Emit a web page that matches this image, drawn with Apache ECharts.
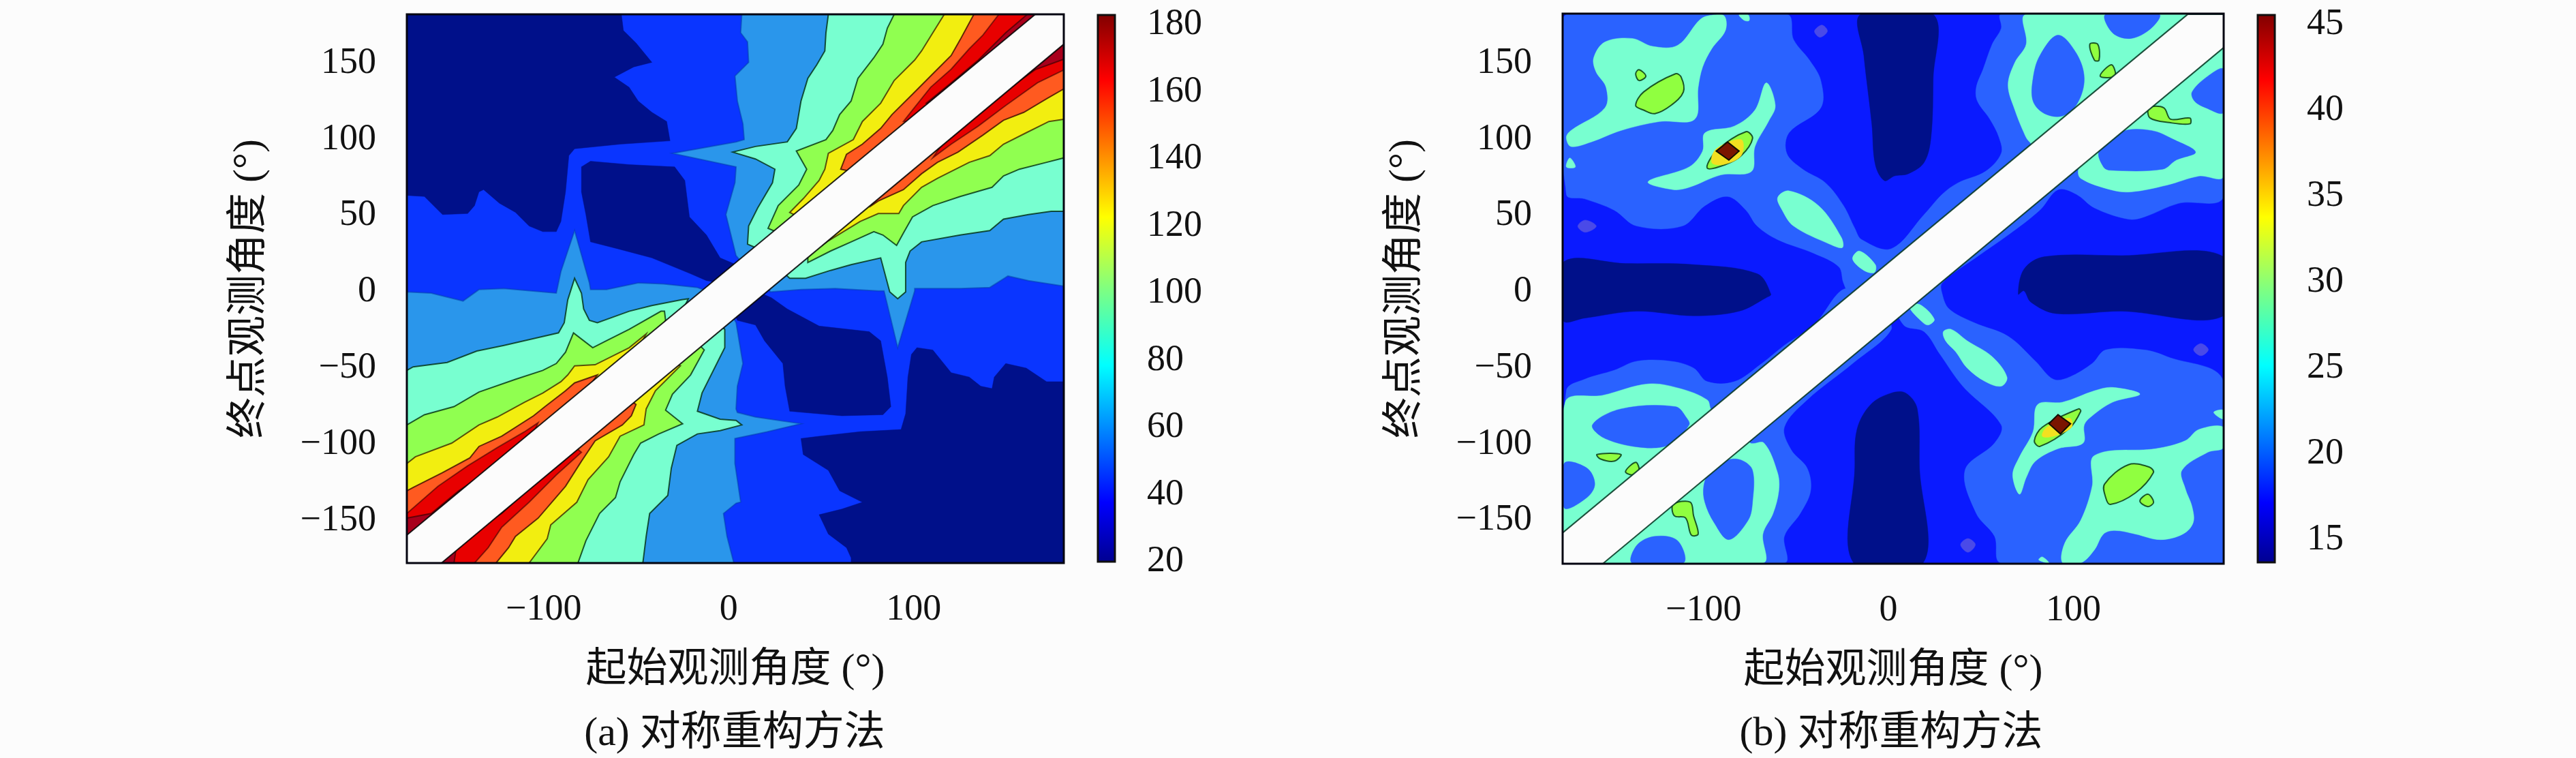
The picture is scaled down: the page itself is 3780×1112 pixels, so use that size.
<!DOCTYPE html>
<html><head><meta charset="utf-8">
<style>html,body{margin:0;padding:0;background:#fcfcfc}#c{width:3780px;height:1112px}</style>
<script src="https://cdn.jsdelivr.net/npm/echarts@6/dist/echarts.min.js"></script>
</head><body><div id="c"></div>
<script>
/* axis ticks and labels */
const xTicks=[-100,0,100];
const yTicks=[-150,-100,-50,0,50,100,150];
const cbarTicksA=[20,40,60,80,100,120,140,160,180];
const cbarTicksB=[15,20,25,30,35,40,45];
const xNameText='起始观测角度 (°)';
const yNameText='终点观测角度 (°)';
const captionA='(a) 对称重构方法';
const captionB='(b) 对称重构方法';
const boundsA=[-174,181.2,-178,182];
const boundsB=[-176.2,181.3,-178.5,182.5];
const cbarRangeA=[19,181.8];
const cbarRangeB=[13.49,45.36];
const cbarSpanA=[20,182.8];
const cbarSpanB=[13.69,45.56];
const jetStops=['#00008f','#0000ff','#00ffff','#80ff80','#ffff00','#ff0000','#800000'];
const jetOffsets=[0,0.11,0.36,0.5,0.63,0.88,1];

/* contour regions of panel (a), in degrees */
const aNavy1=[[-174,182],[-58,182],[-56.9,171.4],[-50.1,163.2],[-41.5,150.5],[-51.3,147.5],[-61.8,140.8],[-53.8,134.1],[-48.9,125.1],[-41.5,117.7],[-33.5,111.7],[-31.7,99],[-58.7,96.8],[-83.3,93.8],[-86.4,89.3],[-88.2,65.5],[-90.7,46.1],[-93.2,39.4],[-100.5,39.4],[-107.9,43.1],[-115.3,52.1],[-123.9,58],[-132.5,67],[-135,65.5],[-137.4,56.5],[-141.1,51.3],[-154.7,50.6],[-164.5,62.5],[-174,63.2]];
const aNavy2=[[-79.6,81.9],[-74.7,85.6],[-53.8,83.4],[-29.2,81.9],[-23.7,73],[-21.2,49.1],[-12,37.2],[-4.6,22.2],[4,17.8],[-4.6,5.8],[-12,7.3],[-20.6,11.8],[-41.5,22.2],[-60,28.2],[-74.7,32.7],[-77.2,50.6],[-79.6,65.5]];
const aNavy3=[[23.1,-3.9],[31.7,-11.3],[48.9,-22.5],[76,-26.2],[82.2,-32.2],[85.8,-56.1],[87.7,-75.4],[83.4,-80.7],[61.2,-81.4],[33,-78.4],[30.5,-62],[29.3,-47.1],[19.4,-32.2],[14.5,-21.8],[4.7,-18.8],[2.2,-11.3],[14.5,0.6]];
const aNavy4=[[181.5,-59],[171.9,-59],[160.9,-50.1],[149.8,-47.1],[143.6,-56],[142.4,-63.5],[136.3,-62],[130.1,-56],[120.3,-53.1],[110.4,-38.2],[101.8,-36.7],[98.8,-41.1],[96.9,-56],[95.7,-79.9],[93.2,-90.4],[71.1,-91.8],[48.9,-94.8],[39.1,-96.3],[40.3,-106.8],[53.9,-117.2],[60,-130.6],[72.3,-138.1],[61.2,-142.6],[48.9,-146.3],[53.9,-159],[63.7,-167.9],[66.2,-174.6],[66.2,-178],[181.5,-178]];
const aSky1=[[7.1,182],[6.5,169.9],[10.2,163.9],[10.8,150.5],[3.4,141.5],[4.7,125.1],[7.7,110.2],[8.4,99.8],[4,98.3],[-30.4,90.8],[4,81.9],[3.4,71.5],[-1.5,50.6],[4,23.7],[10,15],[165,172],[165,182]];
const aSky2=[[-174,-0.1],[-160.8,-0.9],[-143.6,-6.1],[-135,1.4],[-121.5,2.1],[-93.2,-0.9],[-90.7,13.3],[-83.3,40.1],[-75.3,5.8],[-74.7,1.4],[-66,1.4],[-48.9,5.8],[-35.3,5.1],[-16.9,2.8],[-8,-1],[-160,-165],[-174,-165]];
const aSky3=[[181.5,3.6],[162.1,7.3],[151,10.3],[141.2,2.8],[125.2,2.1],[100.6,2.1],[100.6,0.6],[91.4,-36.7],[84,0.6],[80.9,0.6],[57.6,2.1],[39.1,1.4],[22.5,-0.1],[20,8],[170,165],[181.5,172]];
const aSky4=[[2.8,-178],[-0.9,-160.5],[-2.8,-145.5],[4,-138.8],[6.5,-138],[3.4,-112.7],[3.4,-96.3],[20.7,-91.9],[39.1,-86.6],[14.5,-82.2],[4.7,-79.2],[4,-76.9],[4.7,-62],[7.7,-47.1],[4,-20.3],[0,-12],[-150,-160],[-150,-178]];
const aMint1=[[53.9,182],[52.6,169.9],[52,158],[47.7,149],[42.8,140],[39.1,125.1],[36.6,107.2],[31.7,98.3],[14.5,95.3],[2.2,91.6],[14.5,87.1],[25,80.4],[23.7,71.5],[15.7,55],[10.8,43.1],[10.2,31.2],[14.5,29],[20,30],[165,175],[165,182]];
const aMint2=[[181.5,52.8],[174.4,52.8],[162.1,50.6],[148.6,47.6],[141.2,40.1],[125.2,37.2],[104.3,32.7],[98.1,26.7],[95.7,19.3],[95.7,-0.1],[91.4,-4.6],[87.1,-0.1],[82.2,22.2],[66.2,17.8],[55.1,14],[41.6,8.8],[33,8.8],[31.1,11],[40,30],[170,165],[181.5,172]];
const aMint3=[[-174,-51.6],[-170.6,-49.3],[-152.2,-46.4],[-136.2,-38.9],[-121.5,-35.2],[-107.9,-31.4],[-92,-27],[-88.9,-20.3],[-87,-5.3],[-83.3,8.8],[-79.6,-0.9],[-78.4,-11.3],[-75.3,-18.8],[-71,-20.3],[-53.8,-12.8],[-41.5,-9.1],[-25.5,-5.3],[-21.8,-4.6],[-30,-25],[-165,-170],[-174,-170]];
const aMint4=[[-46.4,-178],[-44.6,-160.5],[-42.7,-145.5],[-32.9,-133.6],[-31,-115.7],[-28,-100.8],[-16.9,-93.3],[-4.6,-91.1],[7.1,-87.4],[4,-84.4],[-4.6,-83.6],[-16.9,-78.4],[-14.4,-66.5],[-2.1,-36.7],[-2.1,-24.7],[-10,-15],[-160,-165],[-160,-178]];
const aLime1=[[89.5,182],[85.8,172.9],[83.4,162.4],[78.5,153.5],[69.9,140],[66.2,125.1],[60,116.2],[56.3,105.8],[52.6,99.8],[36.6,92.3],[42.2,80.4],[37.9,70],[26.8,56.5],[21.3,41.6],[25.6,39.4],[35,43],[165,175],[165,182]];
const aLime2=[[181.5,87.9],[171.9,84.9],[157.2,80.4],[148.6,76],[142.4,68.5],[125.2,62.5],[110.4,56.5],[99.4,49.1],[94.5,38.6],[90.8,30.4],[83.4,37.2],[78.5,39.4],[66.2,32.7],[55.1,26.7],[42.8,19.2],[42.8,23],[50,40],[170,165],[181.5,172]];
const aLime3=[[-174,-87.4],[-164.5,-80.7],[-148.5,-75.4],[-135,-65.8],[-115.3,-57.5],[-100.5,-51.6],[-93.2,-47.1],[-88.2,-39.7],[-83.9,-27],[-73.5,-36.7],[-66.1,-32.2],[-53.8,-24.7],[-36.6,-12.8],[-34.7,-12.8],[-34.1,-18.8],[-40,-35],[-165,-170],[-174,-170]];
const aLime4=[[-81.5,-178],[-77.2,-163.4],[-69.8,-145.5],[-61.2,-135.1],[-58.7,-124.7],[-51.3,-106.8],[-47.6,-99.3],[-37.8,-93.3],[-24.9,-86.6],[-34.1,-77.7],[-30.4,-67.2],[-20.6,-54.6],[-13.2,-38.2],[-20,-30],[-155,-165],[-155,-178]];
const aYellow1=[[116.6,182],[110.4,169.9],[104.3,158],[100.6,152],[89.5,138.6],[82.2,123.7],[72.3,111.7],[67.4,99.8],[53.9,90.8],[52,80.4],[48.9,73],[40.3,61],[33,52],[35.4,50.6],[42,52],[165,175],[165,182]];
const aYellow2=[[181.5,113.2],[173.2,111.7],[160.9,104.3],[148.6,96.8],[141.2,89.3],[130.1,84.9],[112.9,74.4],[104.3,68.5],[94.5,56.5],[92,51.3],[80.9,51.3],[71.1,46.1],[53.9,33.4],[51.4,31.2],[60,50],[170,165],[181.5,172]];
const aYellow3=[[-174,-112.7],[-169.4,-108.3],[-149.7,-99.3],[-135,-87.4],[-125.1,-82.2],[-110.4,-72.5],[-100.5,-66.5],[-90.7,-59],[-87,-54.6],[-83.3,-48.6],[-72.2,-47.9],[-53.8,-36.7],[-44.6,-27.7],[-50,-40],[-165,-170],[-174,-170]];
const aYellow4=[[-107.9,-178],[-98.1,-162],[-96.2,-153],[-82.1,-138.1],[-76,-123.2],[-64.9,-108.3],[-58.7,-94.8],[-45.8,-87.4],[-44.6,-76.9],[-39.6,-65],[-26.1,-48.6],[-35,-45],[-160,-170],[-160,-178]];
const aOrange1=[[132.6,182],[125.2,165.4],[120.3,155],[110.4,143],[99.4,129.6],[88.3,116.2],[82.2,107.2],[72.3,96.8],[63.7,90.1],[60.6,80.4],[70,78],[165,175],[165,182]];
const aOrange2=[[181.5,133.3],[171.9,126.6],[159.6,117.7],[148.6,112.5],[137.5,102.8],[124,91.6],[112.9,84.9],[104.3,77.4],[94.5,67],[80.9,59.5],[77.2,56.5],[90,80],[170,165],[181.5,172]];
const aOrange3=[[-174,-130.6],[-170.6,-128.4],[-154.7,-118.7],[-139.9,-109],[-135,-101.5],[-122.7,-94.8],[-105.5,-81.4],[-99.3,-75.4],[-88.2,-65],[-83.3,-59.8],[-71,-54.6],[-80,-70],[-165,-170],[-174,-170]];
const aOrange4=[[-125.8,-178],[-119,-167.9],[-115.3,-160.5],[-103,-148.5],[-88.2,-127.6],[-79.6,-111.2],[-72.2,-97.8],[-57.5,-87.4],[-52.6,-81.4],[-50.1,-74],[-60,-65],[-160,-170],[-160,-178]];
const aRed1=[[146.1,182],[137.5,168.4],[130.1,159.4],[120.3,146],[109.2,134.1],[99.4,119.2],[94.5,111.7],[105,112],[165,175],[165,182]];
const aRed2=[[181.5,145.7],[167,137.1],[149.8,122.2],[135,108.7],[120.3,96.8],[110.4,87.9],[120,105],[170,165],[181.5,172]];
const aRed3=[[-174,-145.5],[-157.1,-127.6],[-141.1,-114.2],[-125.1,-102.3],[-110.4,-91.9],[-103,-85.9],[-110,-105],[-165,-170],[-174,-170]];
const aRed4=[[-137.4,-178],[-130,-167.9],[-122.7,-154.5],[-107.9,-138.1],[-93.2,-120.2],[-79.6,-105.3],[-90,-95],[-160,-170],[-160,-178]];
const aMaroon1=[[161.5,182],[149.8,169.9],[135,152],[120.3,137.1],[106.8,123.7],[115,120],[165,178],[165,182]];
const aMaroon2=[[181.5,152.7],[165.8,145.7],[152.3,134.1],[137.5,119.2],[122.7,104.3],[112.9,93.8],[125,115],[170,165],[181.5,172]];
const aMaroon3=[[-174,-148.5],[-160.8,-145.5],[-146,-130.6],[-135,-121.7],[-123.9,-109.7],[-110.4,-97.8],[-120,-115],[-165,-170],[-174,-170]];
const aMaroon4=[[-148.5,-178],[-147.3,-168],[-132.5,-153],[-122.7,-145.5],[-107.9,-129.1],[-90.7,-112.7],[-79.6,-100.8],[-90,-95],[-160,-170],[-160,-178]];
const aGap=[[-174,-159.7],[-174,-178],[-155.3,-178],[181.2,162.4],[181.2,182],[165.8,182]];

/* contour regions of panel (b), in degrees */
const bNavy1=[[-15,182],[-13.3,155],[-9,110.2],[-7.1,83.4],[-2.2,72.9],[3.3,76],[10.7,77.4],[19.3,84.9],[23,101.3],[24.2,140],[24.2,182]];
const bNavy2=[[-18.8,-178],[-18.2,-115.7],[-17,-90.4],[-9.6,-74],[1.5,-66.5],[9.4,-66.5],[15.6,-76.9],[16.8,-115.7],[18.7,-178]];
const bNavy3=[[-176,19.2],[-142.2,18.5],[-105.4,17.8],[-71,11.8],[-63.6,-1.6],[-66.1,-3.9],[-80.8,-12.8],[-105.4,-15.8],[-136.1,-12.8],[-164.4,-17.3],[-176,-18.8]];
const bNavy4=[[70.2,-1.6],[73.3,14.8],[84.4,23],[126.1,23.7],[181.2,23],[181.2,-15.8],[126.1,-12.8],[90.5,-14.3],[77,-6.8],[73.3,0.6]];
const bAzure1=[[-174.2,182],[-55,182],[-51.3,165.4],[-42.7,152],[-36.6,138.6],[-36.6,120.7],[-53.8,104.3],[-55,90.8],[-46.4,80.4],[-34.1,71.5],[-24.3,56.5],[-18.2,41.6],[-14.5,34.2],[1.5,28.2],[19.3,50.6],[29.1,64],[37.7,71.5],[52.4,78.9],[61,90.8],[59.8,101.3],[54.9,113.2],[48.1,125.1],[47.5,134.1],[51.2,146],[56.1,162.4],[61,172.9],[61,182],[165,182],[165,175],[-10,0],[-20.6,-1.6],[-24.3,5.8],[-26.8,16.3],[-40.3,25.2],[-60,34.2],[-71,43.1],[-77.1,53.6],[-87,62.5],[-99.2,56.5],[-111.5,43.1],[-136.1,43.1],[-148.4,53.6],[-164.4,61],[-174.2,64]];
const bAzure2=[[-174.2,-65],[-164.4,-57.5],[-148.4,-51.6],[-136.1,-45.6],[-117.7,-45.6],[-105.4,-50.1],[-98,-59],[-83.3,-59],[-68.5,-47.1],[-56.3,-35.2],[-40.3,-21.8],[-23,2.1],[-10,-15],[-165,-170],[-176.2,-170]];
const bAzure3=[[181.2,62.5],[156.9,58],[138.4,49.1],[129.8,47.6],[111.4,55],[101.6,64],[91.7,67],[81.9,53.6],[64.7,37.2],[48.8,23.7],[29.1,5.8],[29.1,-1.6],[32.8,-11.3],[46.3,-20.3],[64.7,-29.2],[79.5,-45.6],[89.3,-57.5],[97.9,-56],[110.2,-47.1],[117.5,-38.2],[138.4,-38.2],[150.7,-42.6],[181.2,-59],[181.2,-178],[61,-178],[57.4,-160.5],[47.5,-145.5],[41.4,-117.2],[57.4,-99.3],[61,-87.4],[40.2,-62],[27.9,-41.1],[19.3,-26.2],[8.2,-21.8],[5,-5],[170,165],[181.2,172]];
const bAzure4=[[1.5,-24.7],[-19.4,-47.1],[-44,-71],[-56.3,-88.9],[-52.6,-103.8],[-44,-115.7],[-42.1,-130.6],[-47.7,-145.5],[-56.3,-160.5],[-56.3,-178],[-150,-178],[-150,-165],[-5,-15]];
const bSpot1=[[-168,43],[-164,47],[-158,43],[-164,39]];
const bSpot2=[[-40,171],[-36,175],[-33,171],[-37,167]];
const bSpot3=[[165,-38],[169,-34],[173,-38],[169,-42]];
const bSpot4=[[39,-166],[43,-162],[47,-166],[43,-171]];
const bMint1=[[-174.2,101.3],[-171.7,105.8],[-153.3,120.7],[-152.7,134.1],[-158.2,144.5],[-159.4,153.5],[-153.3,163.9],[-138.6,166.2],[-127.5,161],[-114,161.7],[-101.7,178.8],[-95.6,181.5],[-88.8,181],[-88.2,171.4],[-95.6,159.4],[-100.5,147.5],[-102.9,134.1],[-104.8,113.2],[-123.8,111.7],[-144.7,105.8],[-160.7,98.3],[-171.7,95.3]];
const bMint2=[[-130,72.2],[-107.8,81.9],[-100.5,92.3],[-99.2,104.3],[-83.3,108.7],[-72.2,119.2],[-66.1,137.1],[-61.2,122.2],[-64.9,111.7],[-72.2,95.3],[-74.1,78.9],[-90.6,76.7],[-107.8,68.5],[-116.4,67]];
const bMint3=[[-59.9,61.8],[-53.8,66.2],[-37.8,56.5],[-25.5,35.7],[-24.9,29],[-31.7,31.2],[-51.3,43.1],[-57.5,53.6]];
const bMint4=[[-19.4,21.5],[-15.7,26.7],[-7.1,17.8],[-7.7,12.5],[-13.3,14]];
const bMint5=[[-174.2,81.9],[-172.3,87.8],[-169.3,81.9]];
const bMint6=[[-80.8,181.8],[-75.9,181.8],[-75.3,178],[-77.8,178]];
const bMint7=[[74.5,182],[74.5,162.4],[68.4,150.5],[64.7,135.6],[68.4,119.2],[73.3,104.3],[75.8,99],[85,90],[165,175],[165,182]];
const bMint8=[[102.8,80.4],[104,74.4],[120,67],[131.1,65.5],[150.7,70],[167.9,75.9],[181.2,75.9],[181.2,170],[110,100]];
const bMint9=[[-174.8,-72.5],[-154.5,-68],[-130,-60.5],[-112.8,-63.5],[-98,-71],[-95.6,-77.7],[-85,-85],[-165,-170],[-176.2,-170]];
const bMint10=[[-74.7,-99.3],[-67.3,-99.3],[-60,-118.7],[-59.3,-130.6],[-62.4,-145.5],[-67.9,-159],[-67.9,-178],[-155,-178],[-150,-165],[-80,-90]];
const bMint11=[[11.3,-9.8],[16.8,-8.3],[24.8,-18],[21.7,-21.8],[18.7,-20.3]];
const bMint12=[[29.7,-26.2],[34,-24.7],[42.6,-32.2],[56.1,-42.6],[64.1,-56],[61,-62],[52.4,-59],[42.6,-50.1],[36.5,-39.6],[30.9,-32.2]];
const bMint13=[[70.9,-132.9],[67.2,-120.2],[70.9,-108.3],[78.2,-91.9],[80.7,-74],[94.2,-72.5],[111.4,-65],[121.2,-62.8],[136,-67.2],[121.2,-72.5],[110.2,-81.4],[105.9,-87.4],[105.3,-99.3],[91.7,-103],[79.5,-111.2],[74.6,-121.7]];
const bMint14=[[94.2,-178],[95.4,-164.9],[104,-150],[110.2,-127.6],[111.4,-107.5],[144.6,-103],[160.5,-97.8],[167.9,-90.4],[181.2,-88.9],[181.2,-102.3],[172.8,-105.3],[158.7,-117.2],[160.5,-129.1],[164.2,-141.1],[164.8,-151.5],[159.3,-159],[147,-162.7],[133.5,-159],[122.5,-156.7],[116.3,-159],[111.4,-169.4],[104,-178]];
const bMint15=[[175.9,-79.2],[181.2,-77.7],[181.2,-83.6]];
const bMint16=[[81.3,-176],[83.2,-174],[86.8,-178]];
const bHole1=[[117.5,182],[121.2,169.9],[131.1,166.2],[142.1,172.9],[146.4,182]];
const bHole2=[[91.7,168.4],[101.6,156.5],[105.9,140],[102.2,123.7],[94.2,115.4],[84.4,116.9],[78.2,125.1],[78.2,140],[81.9,155]];
const bHole3=[[164.2,131.1],[172.8,141.5],[181.2,146],[181.2,117.7],[171.6,120.7],[165.5,125.1]];
const bHole4=[[113.9,92.3],[126.1,105],[142.1,105.8],[154.4,99.8],[166.1,91.6],[155.6,86.4],[148.3,80.4],[120,79.7],[116.3,81.9]];
const bHole5=[[-160.1,-87.4],[-144.7,-76.9],[-115.2,-75.4],[-109.1,-82.9],[-107.8,-87.4],[-117.7,-100],[-132.4,-102.3],[-153.3,-96.3]];
const bHole6=[[-175.4,-112.7],[-163.1,-115.7],[-158.8,-126.2],[-163.1,-135.1],[-175.4,-141.8]];
const bHole7=[[-99.3,-138.1],[-94.3,-151.5],[-86.3,-162.7],[-75.9,-150],[-73.5,-138.1],[-73.5,-117.2],[-79.6,-110.5],[-87,-110.5],[-96.8,-118.7],[-99.9,-127.6]];
const bHole8=[[-138.6,-178],[-136.1,-166.4],[-126.3,-160.5],[-114,-163.4],[-110.9,-178]];
const bLime1=[[108.9,162.4],[113.2,162.4],[113.9,152],[111.4,152]];
const bLime2=[[114.5,141.5],[120.6,149],[122.5,141.5]];
const bLime3=[[140.9,120.7],[148.9,120.7],[152.6,113.2],[163,114],[163,110.2],[152,111],[141.5,114]];
const bLime4=[[-136.7,122.2],[-132.4,131.1],[-115.2,143],[-112.1,140.8],[-110.9,131.1],[-117.7,122.2],[-126.3,116.9],[-132.4,119.2]];
const bLime5=[[-136.7,143],[-134.9,145.7],[-131.2,141.5],[-134.9,138.6]];
const bLime6=[[-98,81.1],[-93.1,92.3],[-77.1,105],[-73.5,100.5],[-79.6,89.3],[-88.2,83.4]];
const bLime7=[[-116.4,-139.6],[-107.2,-138.1],[-105.4,-147],[-102.9,-159],[-106.6,-159.7],[-109.7,-148.5],[-115.8,-147]];
const bLime8=[[-157.6,-106.8],[-144.7,-106.8],[-148.4,-111.2],[-155.8,-109.7]];
const bLime9=[[-142.2,-118],[-136.7,-112],[-134.9,-117.2],[-138.6,-120.2]];
const bLime10=[[116.9,-126.2],[129.8,-113.5],[140.9,-115],[143.3,-118.7],[133.5,-132.1],[120,-139.6],[117.5,-135.1]];
const bLime11=[[136,-137.3],[140.3,-132.9],[143.4,-138.1],[140.3,-141]];
const bLime12=[[78.9,-97.8],[83.2,-88.9],[102.8,-76.9],[104,-78.4],[97.9,-89.6],[81.9,-101.5]];
const bYellow1=[[-95.6,84.9],[-93.1,93.8],[-79.6,99.8],[-79.6,89.3],[-89.4,83.4]];
const bYellow2=[[83.2,-94.8],[85.6,-88.9],[97.9,-82.9],[99.1,-88.9],[89.3,-94.8]];
const bPeak1=[[-93.1,92.3],[-87,98.3],[-80.8,92.3],[-86.3,86.4]];
const bPeak2=[[86.8,-86.6],[91.7,-80.7],[98.5,-86.6],[93,-93.3]];
const bGap=[[-176.2,-158.2],[161.8,182],[181.3,182],[181.3,160.2],[-154.5,-178.5],[-176.2,-178.5]];

/* colours */
const ink='rgba(0,45,15,0.8)';
const styleA={navy:['#00108a',null],blue:['#0a35ff',null],sky:['#2a96eb','rgba(0,60,170,0.5)'],mint:['#78ffd0',ink],lime:['#90ff50',ink],yellow:['#f2ee10','rgba(60,40,0,0.8)'],orange:['#ff5a20','rgba(60,10,0,0.8)'],red:['#e80000','rgba(60,0,0,0.6)'],maroon:['#a8001c','rgba(40,0,0,0.6)'],gap:['#fcfcfc','rgba(0,0,0,0.85)']};
const styleB={navy:['#00108a',null],deep:['#0a1aff',null],azure:['#2a62ff',null],spot:['#4a4ae8',null],mint:['#78ffd0',null],lime:['#90ff40',ink],yellow:['#f2e020',null],peak:['#7a1500','#101000'],gap:['#fcfcfc','rgba(0,50,30,0.85)']};

const layersA=[['navy',aNavy1],['navy',aNavy2],['navy',aNavy3],['navy',aNavy4],['sky',aSky1],['sky',aSky2],['sky',aSky3],['sky',aSky4],['mint',aMint1],['mint',aMint2],['mint',aMint3],['mint',aMint4],['lime',aLime1],['lime',aLime2],['lime',aLime3],['lime',aLime4],['yellow',aYellow1],['yellow',aYellow2],['yellow',aYellow3],['yellow',aYellow4],['orange',aOrange1],['orange',aOrange2],['orange',aOrange3],['orange',aOrange4],['red',aRed1],['red',aRed2],['red',aRed3],['red',aRed4],['maroon',aMaroon1],['maroon',aMaroon2],['maroon',aMaroon3],['maroon',aMaroon4],['gap',aGap]];
const layersB=[['navy',bNavy1],['navy',bNavy2],['navy',bNavy3],['navy',bNavy4],['azure',bAzure1],['azure',bAzure2],['azure',bAzure3],['azure',bAzure4],['spot',bSpot1],['spot',bSpot2],['spot',bSpot3],['spot',bSpot4],['mint',bMint1],['mint',bMint2],['mint',bMint3],['mint',bMint4],['mint',bMint5],['mint',bMint6],['mint',bMint7],['mint',bMint8],['mint',bMint9],['mint',bMint10],['mint',bMint11],['mint',bMint12],['mint',bMint13],['mint',bMint14],['mint',bMint15],['mint',bMint16],['azure',bHole1],['azure',bHole2],['azure',bHole3],['azure',bHole4],['azure',bHole5],['azure',bHole6],['azure',bHole7],['azure',bHole8],['lime',bLime1],['lime',bLime2],['lime',bLime3],['lime',bLime4],['lime',bLime5],['lime',bLime6],['lime',bLime7],['lime',bLime8],['lime',bLime9],['lime',bLime10],['lime',bLime11],['lime',bLime12],['yellow',bYellow1],['yellow',bYellow2],['peak',bPeak1],['peak',bPeak2],['gap',bGap]];

const numFont='"Liberation Serif","Noto Sans CJK SC",serif';
const fmt=v=>String(v).replace('-','\u2212');
const chart=echarts.init(document.getElementById('c'),null,{renderer:'canvas'});

function contourSeries(idx,layers,styles,smooth){
  return {type:'custom',xAxisIndex:idx,yAxisIndex:idx,silent:true,animation:false,clip:true,z:2,
    data:layers.map((l,i)=>[i]),
    renderItem(p,api){
      const l=layers[api.value(0)],s=styles[l[0]];
      return {type:'polygon',shape:{points:l[1].map(q=>api.coord(q)),smooth:(l[0]==='gap'||l[0]==='peak')?0:smooth},
        style:{fill:s[0],stroke:s[1]||s[0],lineWidth:s[1]?2:0.5}};
    }};
}
function frameSeries(idx,b){
  return {type:'custom',xAxisIndex:idx,yAxisIndex:idx,silent:true,animation:false,clip:false,z:5,data:[[0]],
    renderItem(p,api){
      const a=api.coord([b[0],b[3]]),c=api.coord([b[1],b[2]]);
      return {type:'rect',shape:{x:a[0],y:a[1],width:c[0]-a[0],height:c[1]-a[1]},
        style:{fill:'none',stroke:'#050510',lineWidth:3}};
    }};
}
function cbarSeries(idx,r){
  return {type:'custom',xAxisIndex:idx,yAxisIndex:idx,silent:true,animation:false,clip:false,z:3,data:[[0]],
    renderItem(p,api){
      const a=api.coord([0,r[1]]),c=api.coord([1,r[0]]);
      return {type:'rect',shape:{x:a[0],y:a[1],width:c[0]-a[0],height:c[1]-a[1]},
        style:{fill:new echarts.graphic.LinearGradient(0,1,0,0,jetStops.map((col,i)=>({offset:jetOffsets[i],color:col}))),stroke:'#101010',lineWidth:3}};
    }};
}
function plotX(gi,b){return {gridIndex:gi,type:'value',min:b[0],max:b[1],name:xNameText,nameLocation:'middle',nameGap:128,
  nameTextStyle:{fontFamily:numFont,fontSize:60,color:'#111'},axisLine:{show:false},axisTick:{show:false},splitLine:{show:false},
  axisLabel:{customValues:xTicks,formatter:fmt,fontFamily:numFont,fontSize:54,color:'#111',margin:42}};}
function plotY(gi,b){return {gridIndex:gi,type:'value',min:b[2],max:b[3],name:yNameText,nameLocation:'middle',nameGap:200,
  nameTextStyle:{fontFamily:numFont,fontSize:60,color:'#111'},axisLine:{show:false},axisTick:{show:false},splitLine:{show:false},
  axisLabel:{customValues:yTicks,formatter:fmt,fontFamily:numFont,fontSize:54,color:'#111',margin:45}};}
function cbarX(gi){return {gridIndex:gi,type:'value',min:0,max:1,show:false};}
function cbarY(gi,r,t){return {gridIndex:gi,type:'value',min:r[0],max:r[1],position:'right',axisLine:{show:false},axisTick:{show:false},splitLine:{show:false},
  axisLabel:{customValues:t,fontFamily:numFont,fontSize:54,color:'#111',margin:47,align:'left'}};}

chart.setOption({
  backgroundColor:'#fcfcfc',animation:false,
  grid:[
    {left:597,top:21,width:964,height:805,show:true,backgroundColor:'#0a35ff',borderWidth:0},
    {left:2293,top:20,width:970,height:807,show:true,backgroundColor:'#0a1aff',borderWidth:0},
    {left:1611,top:27,width:25,height:802},
    {left:3313,top:27,width:25,height:803}
  ],
  xAxis:[plotX(0,boundsA),plotX(1,boundsB),cbarX(2),cbarX(3)],
  yAxis:[plotY(0,boundsA),plotY(1,boundsB),cbarY(2,cbarRangeA,cbarTicksA),cbarY(3,cbarRangeB,cbarTicksB)],
  title:[
    {text:captionA,left:1078,top:1047,textAlign:'center',padding:0,textStyle:{fontFamily:numFont,fontSize:60,fontWeight:'normal',color:'#111'}},
    {text:captionB,left:2775,top:1047,textAlign:'center',padding:0,textStyle:{fontFamily:numFont,fontSize:60,fontWeight:'normal',color:'#111'}}
  ],
  series:[contourSeries(0,layersA,styleA,0),frameSeries(0,boundsA),contourSeries(1,layersB,styleB,0.35),frameSeries(1,boundsB),cbarSeries(2,cbarSpanA),cbarSeries(3,cbarSpanB)]
});
</script></body></html>
